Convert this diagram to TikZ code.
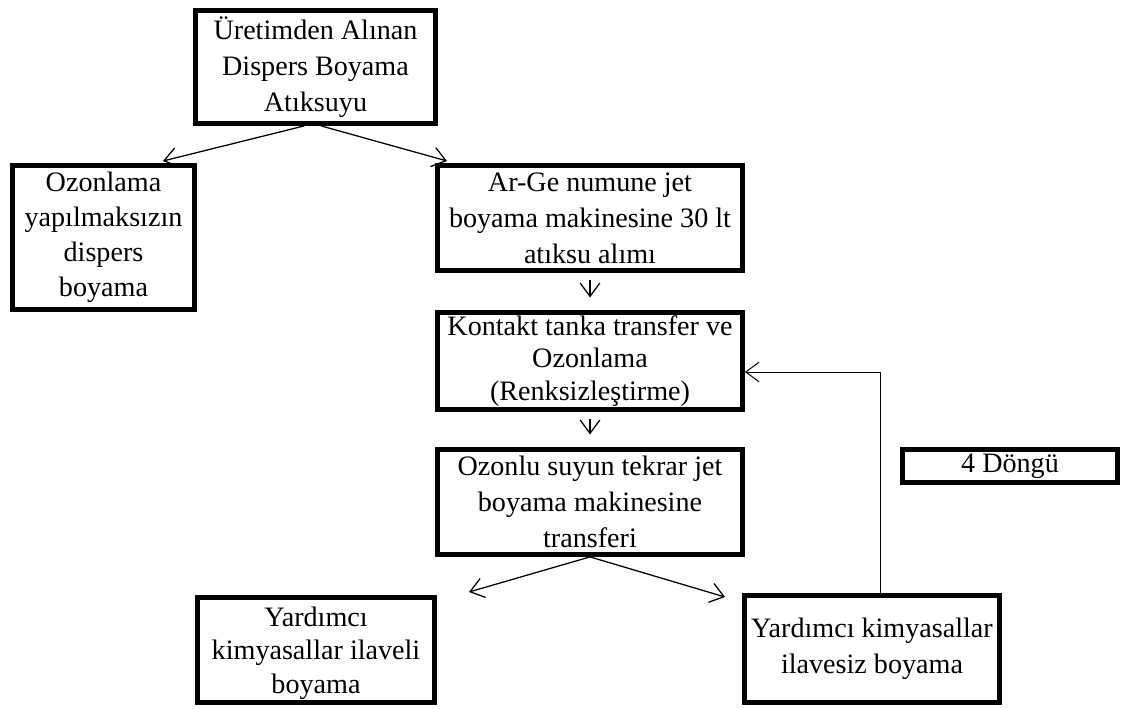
\documentclass[tikz,border=0pt]{standalone}
\usepackage{fontspec}
\setmainfont{Liberation Serif}
\usetikzlibrary{arrows.meta}

\begin{document}
\begin{tikzpicture}[x=0.025cm,y=-0.025cm,
    kutu/.style n args={2}{draw,line width=3.4pt,align=center,inner sep=0pt,
      minimum width=#1,minimum height=#2,
      font=\fontsize{20}{25.5}\selectfont},
    ok/.style={-{Straight Barb[length=9.5pt,width=14pt]},line width=0.9pt}]

        % sayfa (1123 x 709 px)
        \useasboundingbox (0,0) rectangle (1123,709);

        %------------------
        % kutular
        %------------------
        \node[kutu={6.0cm}{2.825cm}] (atik) at (315.5,67)
          {Üretimden Alınan\\Dispers Boyama\\Atıksuyu};
        \node[kutu={4.55cm}{3.6cm},font=\fontsize{20}{25}\selectfont] (ozsiz) at (103.5,237.5)
          {Ozonlama\\yapılmaksızın\\dispers\\boyama};
        \node[kutu={7.625cm}{2.625cm}] (arge) at (590,218)
          {Ar-Ge numune jet\\boyama makinesine 30 lt\\atıksu alımı};
        \node[kutu={7.625cm}{2.425cm},font=\fontsize{20}{23}\selectfont] (kontakt) at (590,361)
          {Kontakt tanka transfer ve\\Ozonlama\\(Renksizleştirme)};
        \node[kutu={7.625cm}{2.625cm}] (ozonlu) at (590,502)
          {Ozonlu suyun tekrar jet\\boyama makinesine\\transferi};
        \node[kutu={5.925cm}{2.625cm},font=\fontsize{20}{24}\selectfont,text depth=-6pt] (ilaveli) at (316,650)
          {Yardımcı\\kimyasallar ilaveli\\boyama};
        \node[kutu={6.375cm}{2.675cm}] (ilavesiz) at (872,649)
          {Yardımcı kimyasallar\\ilavesiz boyama};
        \node[kutu={5.375cm}{0.825cm}] (dongu) at (1010,466) {4 Döngü};

        %------------------
        % oklar
        %------------------
        \coordinate (u1) at (163,161);
        \coordinate (u2) at (447,161);
        \coordinate (a1) at (469,592);
        \coordinate (a2) at (725,597);
        \coordinate (dn) at (880,372);

        \draw[ok] ([xshift=-8pt]atik.south) -- (u1);
        \draw[ok] ([xshift=4pt]atik.south) -- (u2);
        \draw[ok,shorten <=5pt,shorten >=9pt] (arge.south) -- (kontakt.north);
        \draw[ok,shorten <=5pt,shorten >=9pt] (kontakt.south) -- (ozonlu.north);
        \draw[ok] (ozonlu.south) -- (a1);
        \draw[ok] (ozonlu.south) -- (a2);

        % döngü
        \draw[ok,line width=0.7pt] (ilavesiz.north -| dn) -- (dn) -- (kontakt.east |- dn);
      \end{tikzpicture}
\end{document}
